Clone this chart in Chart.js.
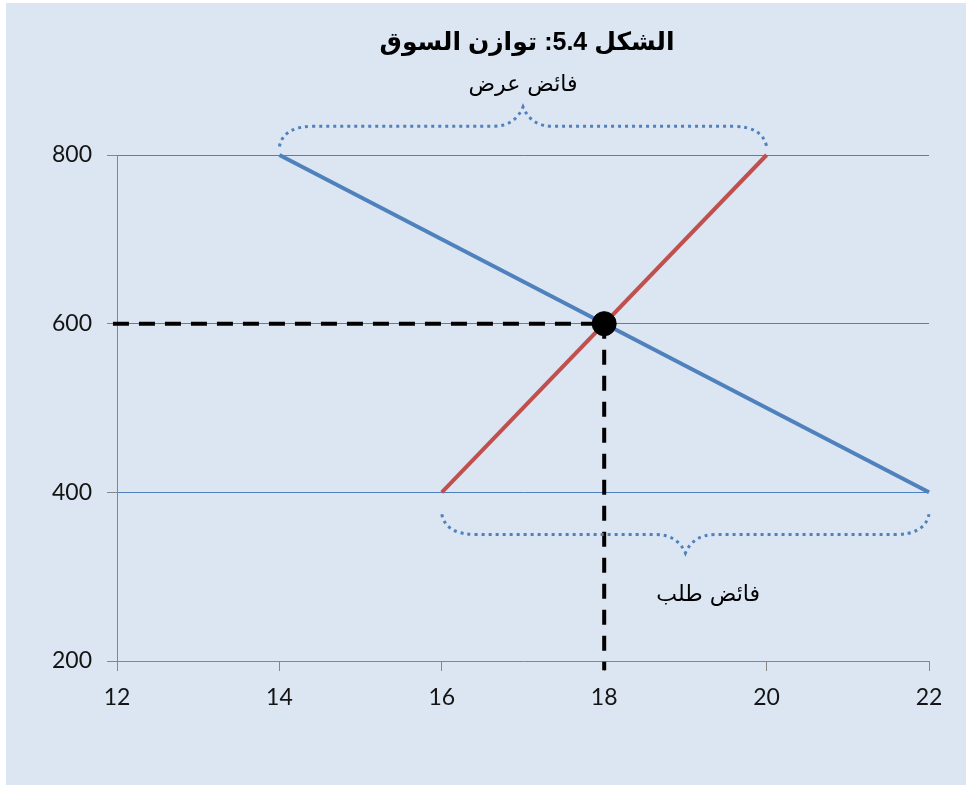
<!DOCTYPE html>
<html>
<head>
<meta charset="utf-8">
<script src="https://cdn.jsdelivr.net/npm/chart.js@4.4.1/dist/chart.umd.min.js"></script>
<style>
  html, body { margin: 0; padding: 0; background: #ffffff; }
  #wrap { position: absolute; left: 6px; top: 3px; }
</style>
</head>
<body>
<div id="wrap"><canvas id="c" width="960" height="782"></canvas></div>
<script>
// Price (x) and quantity (y) ticks
const xTicks = [12, 14, 16, 18, 20, 22];
const yTicks = [200, 400, 600, 800];

// Demand curve (falling) and supply curve (rising)
const demandX = [14, 22];
const demandY = [800, 400];
const supplyX = [16, 20];
const supplyY = [400, 800];

// Equilibrium point
const equilibriumX = [18];
const equilibriumY = [600];

// Reference lines from the axes to the equilibrium
const priceGuideX = [11.95, 18];
const priceGuideY = [600, 600];
const qtyGuideX = [18, 18];
const qtyGuideY = [600, 189];

// Braces: [from, to, middle] along x, [ends, level, tip] along y
const surplusBraceX = [14, 20, 17];
const surplusBraceY = [810, 834, 857];
const shortageBraceX = [16, 22, 19];
const shortageBraceY = [374, 350, 328];

const titleText = 'الشكل 5.4: توازن السوق';
const surplusLabel = 'فائض عرض';
const shortageLabel = 'فائض طلب';

const zip = (xs, ys) => xs.map((x, i) => ({ x: x, y: ys[i] }));

const BLUE = '#4f81bd';
const RED = '#c0504d';
const AXIS = '#868686';

function drawBrace(ctx, sx, sy, bx, by) {
  const px = v => sx.getPixelForValue(v);
  const py = v => sy.getPixelForValue(v);
  const x0 = px(bx[0]), x1 = px(bx[1]), xm = px(bx[2]);
  const yEnd = py(by[0]), yLev = py(by[1]), yTip = py(by[2]);
  const r = 34, t = 30;
  ctx.beginPath();
  ctx.moveTo(x0, yEnd);
  ctx.quadraticCurveTo(x0 + 4, yLev, x0 + r, yLev);
  ctx.lineTo(xm - t, yLev);
  ctx.quadraticCurveTo(xm - 8, yLev, xm, yTip);
  ctx.quadraticCurveTo(xm + 8, yLev, xm + t, yLev);
  ctx.lineTo(x1 - r, yLev);
  ctx.quadraticCurveTo(x1 - 4, yLev, x1, yEnd);
  ctx.stroke();
}

const annotations = {
  id: 'annotations',
  beforeDraw(chart) {
    const ctx = chart.ctx;
    ctx.save();
    ctx.fillStyle = '#dce6f2';
    ctx.fillRect(0, 0, chart.width, chart.height);
    ctx.restore();
  },
  afterDatasetsDraw(chart) {
    const ctx = chart.ctx;
    const sx = chart.scales.x, sy = chart.scales.y;
    ctx.save();
    ctx.strokeStyle = BLUE;
    ctx.lineWidth = 3;
    ctx.setLineDash([3, 4]);
    drawBrace(ctx, sx, sy, surplusBraceX, surplusBraceY);
    drawBrace(ctx, sx, sy, shortageBraceX, shortageBraceY);
    ctx.setLineDash([]);

    ctx.fillStyle = '#000000';
    ctx.direction = 'rtl';
    ctx.textAlign = 'center';
    ctx.textBaseline = 'middle';
    ctx.font = '22px "DejaVu Sans", "Liberation Sans", sans-serif';
    ctx.fillText(surplusLabel, sx.getPixelForValue(17), sy.getPixelForValue(883));
    ctx.fillText(shortageLabel, sx.getPixelForValue(19.28), sy.getPixelForValue(278));

    ctx.font = 'bold 25px "Liberation Sans", "DejaVu Sans", sans-serif';
    ctx.fillText(titleText, 521, 40);
    ctx.restore();
  }
};

new Chart(document.getElementById('c'), {
  type: 'scatter',
  data: {
    datasets: [
      {
        label: 'equilibrium',
        data: zip(equilibriumX, equilibriumY),
        pointRadius: 12,
        pointBackgroundColor: '#000000',
        pointBorderColor: '#000000',
        showLine: false
      },
      {
        label: 'demand',
        data: zip(demandX, demandY),
        showLine: true,
        borderColor: BLUE,
        borderWidth: 4,
        pointRadius: 0
      },
      {
        label: 'supply',
        data: zip(supplyX, supplyY),
        showLine: true,
        borderColor: RED,
        borderWidth: 4,
        pointRadius: 0
      },
      {
        label: 'price guide',
        data: zip(priceGuideX, priceGuideY),
        showLine: true,
        borderColor: '#000000',
        borderWidth: 4,
        borderDash: [16, 10],
        pointRadius: 0
      },
      {
        label: 'quantity guide',
        data: zip(qtyGuideX, qtyGuideY),
        showLine: true,
        borderColor: '#000000',
        borderWidth: 4,
        borderDash: [15, 11],
        pointRadius: 0
      }
    ]
  },
  options: {
    responsive: false,
    animation: false,
    events: [],
    clip: false,
    layout: { padding: { top: 152, right: 37, left: 0, bottom: 0 } },
    plugins: {
      legend: { display: false },
      title: { display: false },
      tooltip: { enabled: false }
    },
    scales: {
      x: {
        type: 'linear',
        min: xTicks[0],
        max: xTicks[xTicks.length - 1],
        afterBuildTicks(scale) { scale.ticks = xTicks.map(v => ({ value: v })); },
        afterFit(scale) { scale.height = 124; },
        border: { color: AXIS, width: 1 },
        grid: { drawOnChartArea: false, drawTicks: true, tickLength: 10, tickColor: AXIS },
        ticks: { color: '#141414', font: { family: 'Lato', size: 23 }, padding: 13, maxRotation: 0 }
      },
      y: {
        type: 'linear',
        min: yTicks[0],
        max: yTicks[yTicks.length - 1],
        afterBuildTicks(scale) { scale.ticks = yTicks.map(v => ({ value: v })); },
        afterFit(scale) { scale.width = 111; },
        border: { color: AXIS, width: 1 },
        grid: {
          color: ctx => ctx.tick && ctx.tick.value === yTicks[0] ? 'rgba(0,0,0,0)' : BLUE,
          lineWidth: 1,
          drawTicks: true,
          tickLength: 10,
          tickColor: AXIS
        },
        ticks: { color: '#141414', font: { family: 'Lato', size: 23 }, padding: 15 }
      }
    }
  },
  plugins: [annotations]
});
</script>
</body>
</html>
